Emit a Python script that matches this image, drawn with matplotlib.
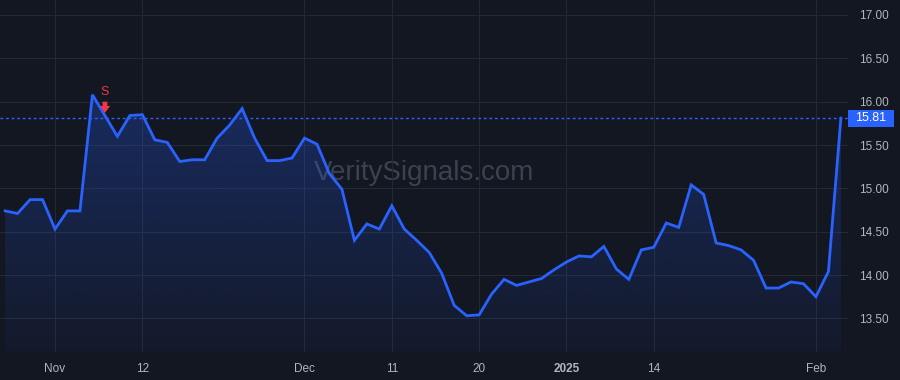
import numpy as np
import matplotlib
matplotlib.use("Agg")
from matplotlib import pyplot as plt
from matplotlib.patches import Polygon, Rectangle
from matplotlib.colors import to_rgb

# daily closes, one per trading session (Oct 28 2024 .. Feb 5 2025)
closes = [14.74, 14.71, 14.87, 14.87, 14.53, 14.74, 14.74, 16.08, 15.84, 15.60,
          15.84, 15.85, 15.56, 15.53, 15.31, 15.33, 15.33, 15.58, 15.73, 15.92,
          15.58, 15.32, 15.32, 15.35, 15.58, 15.51, 15.17, 14.99, 14.40, 14.59,
          14.53, 14.80, 14.53, 14.40, 14.26, 14.02, 13.65, 13.53, 13.54, 13.78,
          13.95, 13.88, 13.92, 13.96, 14.06, 14.15, 14.22, 14.21, 14.33, 14.07,
          13.95, 14.29, 14.32, 14.60, 14.55, 15.04, 14.93, 14.37, 14.34, 14.29,
          14.17, 13.85, 13.85, 13.92, 13.90, 13.75, 14.04, 15.81]

tick_idx = [4, 11, 24, 31, 38, 45, 52, 65]
tick_labels = ["Nov", "12", "Dec", "11", "20", "2025", "14", "Feb"]
y_ticks = [13.5, 14.0, 14.5, 15.0, 15.5, 16.0, 16.5, 17.0]

signal_idx = 8
signal_text = "S"
last_price = closes[-1]

bg = "#131722"
grid = "#242833"
blue = "#2962ff"
red = "#f23645"
txt = "#b2b5be"

plt.rcParams["font.family"] = ["Liberation Sans", "DejaVu Sans"]

fig = plt.figure(figsize=(9, 3.8), dpi=100, facecolor=bg)
ax = fig.add_axes([0, 28 / 380, 848 / 900, 352 / 380], facecolor=bg)

x = np.arange(len(closes))
ymin, ymax = 13.112, 17.173
ax.set_xlim(-0.41, 67.57)
ax.set_ylim(ymin, ymax)

# gradient fill under the line
verts = [(x[0], ymin)] + list(zip(x, closes)) + [(x[-1], ymin)]
poly = Polygon(verts, closed=True, facecolor="none", edgecolor="none")
ax.add_patch(poly)
rgba = np.zeros((256, 1, 4))
rgba[..., :3] = to_rgb(blue)
rgba[..., 3] = np.linspace(0.28, 0.04, 256).reshape(-1, 1)
im = ax.imshow(rgba, extent=[x[0], x[-1], ymin, max(closes)], aspect="auto",
               origin="upper", zorder=1, interpolation="bilinear")
im.set_clip_path(poly)

ax.plot(x, closes, color=blue, lw=2, zorder=3, solid_joinstyle="miter")

# last price line + label box on the price scale
ax.axhline(last_price, color=blue, lw=1, ls=(0, (2, 2)), zorder=2)
half_h = 8.5 / 86.67
ax.add_patch(Rectangle((1.0, last_price - half_h), 46 / 848, 2 * half_h,
                       transform=ax.get_yaxis_transform(), fc=blue, ec="none",
                       clip_on=False, zorder=9))
ax.text(1.0 + 23 / 848, last_price, f"{last_price:.2f}", transform=ax.get_yaxis_transform(),
        ha="center", va="center", color="white", fontsize=9, clip_on=False, zorder=10)

# sell marker
ax.text(signal_idx, 16.11, signal_text, color=red, ha="center", va="center", fontsize=9, zorder=5)
ax.annotate("", xy=(signal_idx, 15.87), xytext=(signal_idx, 16.0),
            arrowprops=dict(arrowstyle="simple,head_width=0.75,head_length=0.5,tail_width=0.35",
                            color=red, lw=0, shrinkA=0, shrinkB=0), zorder=5)

# watermark
ax.text(0.5, 0.508, "VeritySignals.com", transform=ax.transAxes, ha="center", va="center",
        color="#3d414d", fontsize=20, zorder=0)

ax.set_xticks(tick_idx)
ax.set_xticklabels(tick_labels)
for lab in ax.get_xticklabels():
    if lab.get_text() == "2025":
        lab.set_fontweight("bold")
ax.set_yticks(y_ticks)
ax.set_yticklabels([f"{v:.2f}" for v in y_ticks])
ax.yaxis.tick_right()
ax.tick_params(axis="both", length=0, colors=txt, labelsize=8.5)
ax.tick_params(axis="y", pad=8)
ax.tick_params(axis="x", pad=8)
ax.grid(True, color=grid, lw=0.8)
ax.set_axisbelow(True)
for s in ax.spines.values():
    s.set_visible(False)

fig.savefig("out.png", dpi=100, facecolor=bg)
